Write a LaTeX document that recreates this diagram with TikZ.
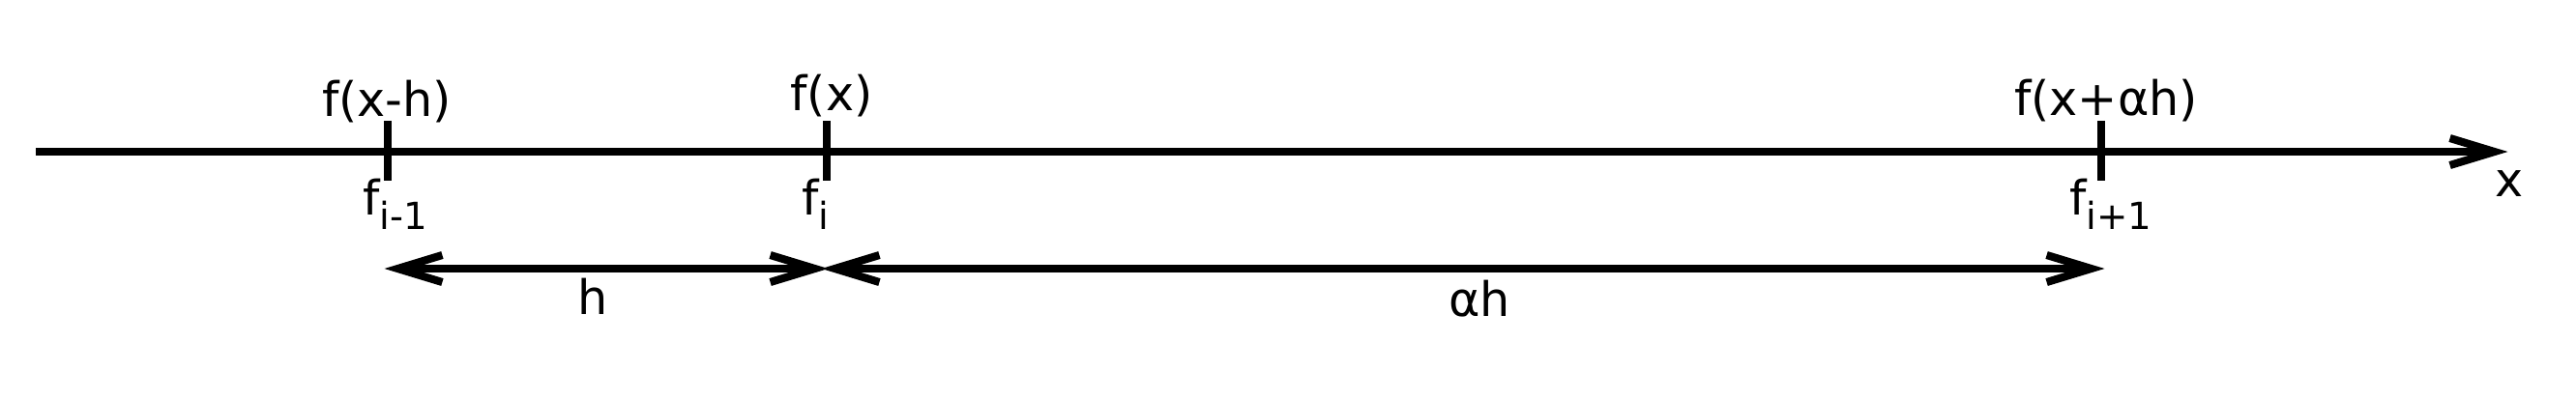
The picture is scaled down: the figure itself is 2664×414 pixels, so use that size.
\documentclass[tikz,border=0pt]{standalone}
\usepackage{fontspec}
\setmainfont{DejaVu Sans}
\usepackage{tikz}
\usetikzlibrary{arrows.meta}

\newcommand{\lowsub}[1]{\raisebox{-0.31em}{\fontsize{11pt}{13pt}\selectfont #1}}
\tikzset{lbl/.style={inner sep=0pt, anchor=base},
         sublbl/.style={inner sep=0pt, anchor=base west},
         barb/.style={shorten >=-0.035cm, shorten <=-0.035cm}}

\begin{document}
\begin{tikzpicture}[x=0.01cm, y=-0.01cm, line width=2.3pt,
  >={Straight Barb[length=4.6mm,width=2.8mm,sharp]},
  font=\fontsize{14pt}{17pt}\selectfont]
			\useasboundingbox (0,0) rectangle (2664,414);
			% axis
			\coordinate (start) at (37,157);
			\coordinate (end) at (2590,157);
			\draw[->,shorten >=-0.035cm] (start) -- (end);
			\node[lbl] (xlab) at (2595,203) {x};
			% ticks
			\coordinate (t0) at (401,157);
			\coordinate (t1) at (855,157);
			\coordinate (t2) at (2173,157);
			\draw ([yshift=0.32cm]t0) -- ([yshift=-0.30cm]t0);
			\draw ([yshift=0.32cm]t1) -- ([yshift=-0.30cm]t1);
			\draw ([yshift=0.32cm]t2) -- ([yshift=-0.30cm]t2);
			\node[lbl] (fm) at (400,120) {f(x-h)};
			\node[lbl] (f0) at (860,114) {f(x)};
			\node[lbl] (fp) at (2178,119) {f(x+αh)};
			\node[sublbl] (sm) at (371,222) {f\lowsub{i-1}};
			\node[sublbl] (s0) at (825,222) {f\lowsub{i}};
			\node[sublbl] (sp) at (2136,222) {f\lowsub{i+1}};
			% step widths
			\coordinate (a0) at (401,278);
			\coordinate (a1) at (853,278);
			\coordinate (a2) at (2173,278);
			\draw[<->,barb] (a0) -- (a1);
			\draw[<->,barb] (a1) -- (a2);
			\node[lbl] (h) at (613,325) {h};
			\node[lbl] (ah) at (1530,327) {αh};
		\end{tikzpicture}
\end{document}
